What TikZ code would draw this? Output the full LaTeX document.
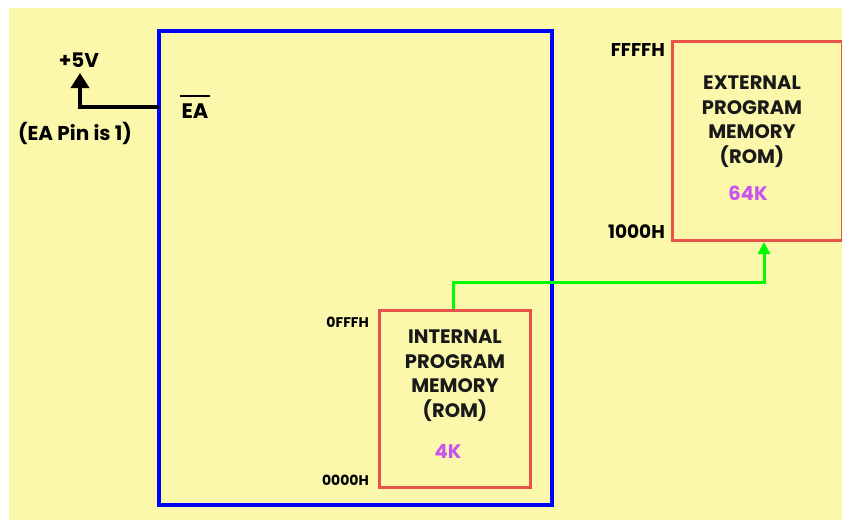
\documentclass[tikz,border=0pt]{standalone}
\usepackage{fontspec}
\setmainfont{Poppins}
\usetikzlibrary{arrows.meta}
\definecolor{bgyellow}{RGB}{251,248,172}
\definecolor{boxred}{RGB}{232,82,72}
\definecolor{pinkish}{RGB}{204,82,240}
\definecolor{brightgreen}{RGB}{0,250,0}
\tikzset{
  memtext/.style={align=center, font=\fontsize{19.5}{24.5}\selectfont\bfseries, text=black!90},
  sizetext/.style={font=\fontsize{19.5}{22}\selectfont\bfseries, text=pinkish},
  addrbig/.style={font=\fontsize{18.5}{20}\selectfont\bfseries, anchor=east, inner sep=0pt},
  addrsmall/.style={font=\fontsize{14}{16}\selectfont\bfseries, anchor=east, inner sep=0pt},
  lbl/.style={font=\fontsize{20}{22}\selectfont\bfseries, inner sep=0pt},
}
\begin{document}
\begin{tikzpicture}[x=1pt,y=-1pt]
\useasboundingbox (0,0) rectangle (842,520);
\fill[bgyellow] (9,8) rectangle (842,520);
% chip
\draw[blue, line width=3.2pt] (159,31) rectangle (552,505);
\coordinate (chipL) at (159,107);
% internal memory
\node[draw=boxred, line width=3pt, minimum width=151pt, minimum height=177pt, inner sep=0pt] (int) at (454.5,398.5) {};
\node[memtext] at (455,375.5) {INTERNAL\\PROGRAM\\MEMORY\\(ROM)};
\node[sizetext] at (448,451) {4K};
\node[addrsmall] at (369,322) {0FFFH};
\node[addrsmall] at (369,480) {0000H};
% external memory
\node[draw=boxred, line width=3pt, minimum width=170pt, minimum height=199pt, inner sep=0pt] (ext) at (757,140.5) {};
\node[memtext] at (752,121.5) {EXTERNAL\\PROGRAM\\MEMORY\\(ROM)};
\node[sizetext] at (748,193) {64K};
\node[addrbig] at (665,50) {FFFFH};
\node[addrbig] at (665,232) {1000H};
% EA pin
\node[lbl, font=\fontsize{21}{22}\selectfont\bfseries] (ea) at (195,111) {EA};
\draw[line width=1.8pt] (180,96) -- (210,96);
\coordinate (vcc) at (80,73);
\draw[line width=3.5pt, -{Triangle[width=18pt,length=15pt]}] (chipL) -| (vcc);
\node[lbl] (v5) at (79,60) {+5V};
\node[lbl] (pin) at (75,133) {(EA Pin is 1)};
% green link
\coordinate (extin) at (764,242);
\draw[brightgreen, line width=3pt, -{Triangle[width=12pt,length=12pt]}] (int.north -| 453,0) |- (0,282 -| extin) -- (extin);
\end{tikzpicture}
\end{document}
